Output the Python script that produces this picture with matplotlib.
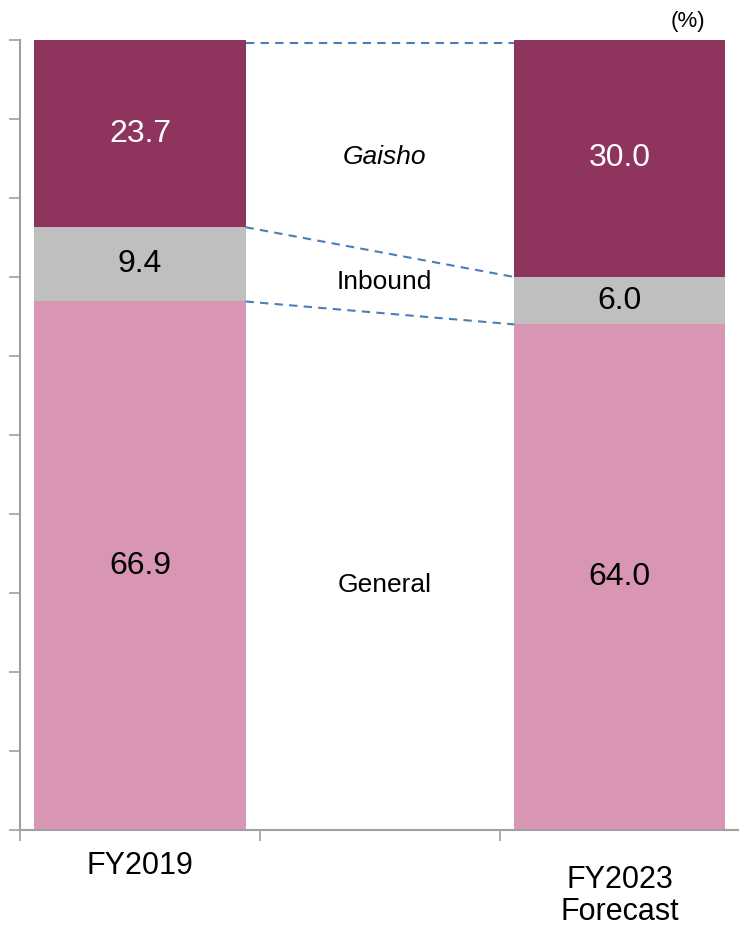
import matplotlib.pyplot as plt

plt.rcParams['font.family'] = ['Liberation Sans', 'DejaVu Sans']

categories = ["FY2019", "", "FY2023\nForecast"]
general = [66.9, 0, 64.0]
inbound = [9.4, 0, 6.0]
gaisho = [23.7, 0, 30.0]

segment_names = ["General", "Inbound", "Gaisho"]
name_y = [31.0, 69.4, 85.2]

c_general = "#D896B4"
c_inbound = "#BFBFBF"
c_gaisho = "#8E345E"
c_dash = "#4A7EBB"

fig = plt.figure(figsize=(7.39, 9.27), dpi=100)
ax = fig.add_axes([20 / 739, 97 / 927, 721 / 739, 790 / 927])

x = [0, 2]
g = [general[0], general[2]]
i = [inbound[0], inbound[2]]
s = [gaisho[0], gaisho[2]]
w = 0.88
ax.bar(x, g, width=w, color=c_general)
ax.bar(x, i, width=w, bottom=g, color=c_inbound)
ax.bar(x, s, width=w, bottom=[a + b for a, b in zip(g, i)], color=c_gaisho)

# value labels
for k, xi in enumerate(x):
    ax.text(xi, g[k] / 2, f"{g[k]:.1f}", ha="center", va="center", fontsize=23, color="black")
    ax.text(xi, g[k] + i[k] / 2, f"{i[k]:.1f}", ha="center", va="center", fontsize=23, color="black")
    ax.text(xi, g[k] + i[k] + s[k] / 2, f"{s[k]:.1f}", ha="center", va="center", fontsize=23, color="white")

# dashed connectors between bars
x0, x1 = 0 + w / 2, 2 - w / 2
ax.plot([x0, x1], [g[0], g[1]], ls="--", color=c_dash, lw=1.5, dashes=(4, 3))
ax.plot([x0, x1], [g[0] + i[0], g[1] + i[1]], ls="--", color=c_dash, lw=1.5, dashes=(4, 3))
ax.plot([x0, x1], [99.6, 99.6], ls="--", color=c_dash, lw=1.5, dashes=(4, 3))

for name, yv in zip(segment_names, name_y):
    ax.text(1.02, yv, name, ha="center", va="center", fontsize=19,
            style="italic" if name == "Gaisho" else "normal")

ax.set_xlim(-0.5, 2.505)
ax.set_ylim(0, 100)
ax.set_yticks(range(0, 101, 10))
ax.set_yticklabels([])
ax.set_xticks([-0.5, 0.5, 1.5])
ax.set_xticklabels([])
ax.tick_params(axis="both", which="major", length=8, color="#A0A0A0", width=1.2)
for side in ["top", "right"]:
    ax.spines[side].set_visible(False)
for side in ["left", "bottom"]:
    ax.spines[side].set_color("#A0A0A0")
    ax.spines[side].set_linewidth(1.5)

# category labels below the axis (pixel rows from the reference)
tr = ax.get_xaxis_transform()
ax.text(x[0], (830 - 866) / 790, categories[0], transform=tr, ha="center", va="center",
        fontsize=22, clip_on=False)
ax.text(x[1], (830 - 896) / 790, categories[2], transform=tr, ha="center", va="center",
        fontsize=22, linespacing=1.05, clip_on=False)

fig.text(688 / 739, 1 - 22 / 927, "(%)", ha="center", va="center", fontsize=16)

fig.savefig("out.png", dpi=100)
